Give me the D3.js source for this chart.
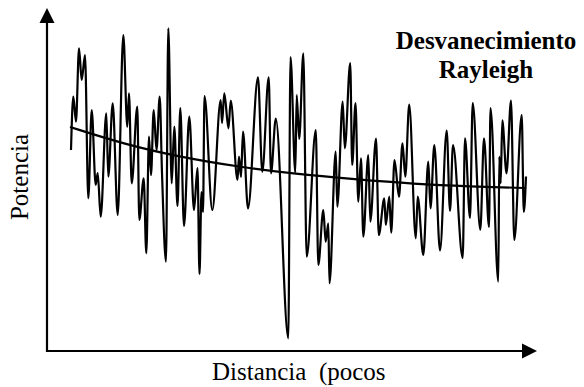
<!DOCTYPE html>
<html>
<head>
<meta charset="utf-8">
<script src="https://cdn.jsdelivr.net/npm/d3@7"></script>
<style>
  html, body { margin: 0; padding: 0; background: #fff; }
  svg { display: block; }
  text { font-family: "Liberation Serif", "Times New Roman", serif; fill: #000; }
</style>
</head>
<body>
<svg id="chart" width="584" height="387"></svg>
<script>
// Received power along the distance (arbitrary units): fast Rayleigh fading
const distance = [
  24, 26.3, 29, 32, 34.7, 38, 41.3, 44.7, 48.7, 50.7, 53.7, 59.3, 61.3, 65.7, 70.7, 76.3,
  80.3, 82, 84.7, 90.3, 92.3, 96.7, 99.3, 102, 104, 106.7, 109.5, 112.7, 115, 119, 121.3,
  124.7, 127.3, 130.5, 133.3, 137, 142.3, 147, 150.5, 152.5, 154.5, 156, 157.5, 165.3,
  173.7, 175, 177.3, 181.5, 183.7, 190.5, 192, 194, 196, 201, 211, 215.3, 221.7, 224,
  228.8, 241.3, 243.5, 248.3, 249.7, 252.2, 256.3, 259.7, 268.8, 271.3, 276.3, 278.7,
  281.3, 282.5, 288.7, 290.3, 295.7, 297.8, 303.2, 305.2, 308.5, 311.3, 314, 316.3,
  321.3, 323.3, 329, 331.8, 337.3, 338.8, 342.3, 344.2, 347.5, 352, 355.5, 358.3, 362.2,
  368.8, 370.7, 376.3, 381.3, 383.5, 387.3, 393, 399.7, 403, 406, 415.7, 418, 423,
  425.7, 433.3, 437, 442, 443.5, 451.3, 452.3, 453.7, 455.3, 459.5, 464, 467.3, 474.7,
  476.8, 479
];
const power = [
  201, 254.3, 229.3, 302.7, 271, 296, 152.7, 241, 166, 178, 134.3, 237.7, 174.3, 247.7, 136, 316,
  224.3, 257.7, 167.7, 244.3, 131, 172.7, 97.7, 214.3, 176, 241, 201, 254.3, 178, 89.3, 322.7,
  167.7, 224.3, 145, 243, 125, 234.3, 141, 183, 77, 159, 139, 255, 141,
  251, 228, 257.7, 222.7, 250.3, 171, 194.5, 174, 219.3, 142.7, 273.7, 179.3, 273.7, 177.7,
  232.5, 12.7, 294, 178.5, 256, 212, 297.7, 94.3, 221, 86, 141, 109.3,
  127.7, 67.7, 199.3, 144.3, 249.3, 202.7, 288, 186, 248, 149.3, 192.7, 114.3,
  196, 129.3, 212.5, 116, 152.7, 126, 154.3, 118.3, 191, 154.3, 207.7, 174.3, 246.5,
  112.7, 154.3, 96, 189.3, 142.7, 206, 100.5, 220.5, 140, 206, 93, 212.7, 133,
  248, 121.3, 212.7, 124, 243, 69.3, 194.3, 167.7, 230.7, 177.7, 250.5, 111, 236,
  139, 174.5
];

// Mean (path-loss) trend of the received power
const trendDistance = [23, 78, 133, 193, 248, 308, 367, 423, 478];
const trendPower    = [224, 206.6, 194, 184, 177, 171.7, 167, 164.5, 163];

// Axis extents
const distanceMax = 490;
const powerMax = 343;

const titleLines = ["Desvanecimiento", "Rayleigh"];
const xLabel = "Distancia  (pocos";
const yLabel = "Potencia";

const svg = d3.select("#chart");

const x = d3.scaleLinear().domain([0, distanceMax]).range([47, 537]);
const y = d3.scaleLinear().domain([0, powerMax]).range([351, 8]);

const signal = distance.map((d, i) => ({ d, p: power[i] }));
const trend = trendDistance.map((d, i) => ({ d, p: trendPower[i] }));

// Axes with arrowheads
const ax0 = x(0), ay0 = y(0), axEnd = x(distanceMax), ayEnd = y(powerMax);
const head = 15, half = 7.5;
const axes = svg.append("g").attr("class", "axes");
axes.append("line")
  .attr("x1", ax0).attr("y1", ay0 + 1).attr("x2", ax0).attr("y2", ayEnd + head)
  .attr("stroke", "#000").attr("stroke-width", 2.2);
axes.append("line")
  .attr("x1", ax0 - 1).attr("y1", ay0).attr("x2", axEnd - head).attr("y2", ay0)
  .attr("stroke", "#000").attr("stroke-width", 2.2);
axes.append("path")
  .attr("d", `M${ax0},${ayEnd}L${ax0 - half},${ayEnd + head}L${ax0 + half},${ayEnd + head}Z`)
  .attr("fill", "#000");
axes.append("path")
  .attr("d", `M${axEnd},${ay0}L${axEnd - head},${ay0 - half}L${axEnd - head},${ay0 + half}Z`)
  .attr("fill", "#000");

// Fading signal
const line = d3.line()
  .x(v => x(v.d))
  .y(v => y(v.p))
  .curve(d3.curveMonotoneX);

svg.append("path")
  .datum(signal)
  .attr("d", line)
  .attr("fill", "none")
  .attr("stroke", "#000")
  .attr("stroke-width", 2.2)
  .attr("stroke-linejoin", "round");

// Mean trend
svg.append("path")
  .datum(trend)
  .attr("d", d3.line().x(v => x(v.d)).y(v => y(v.p)).curve(d3.curveBasis))
  .attr("fill", "none")
  .attr("stroke", "#000")
  .attr("stroke-width", 2.2);

// Title
svg.append("text")
  .attr("x", 486).attr("y", 49)
  .attr("text-anchor", "middle")
  .attr("font-weight", "bold")
  .attr("font-size", 25)
  .text(titleLines[0]);
svg.append("text")
  .attr("x", 486).attr("y", 78)
  .attr("text-anchor", "middle")
  .attr("font-weight", "bold")
  .attr("font-size", 25)
  .text(titleLines[1]);

// Axis titles
svg.append("text")
  .attr("x", 212).attr("y", 380)
  .attr("font-size", 25)
  .style("white-space", "pre")
  .text(xLabel);

svg.append("text")
  .attr("transform", "translate(28,177) rotate(-90)")
  .attr("text-anchor", "middle")
  .attr("font-size", 25)
  .text(yLabel);
</script>
</body>
</html>
